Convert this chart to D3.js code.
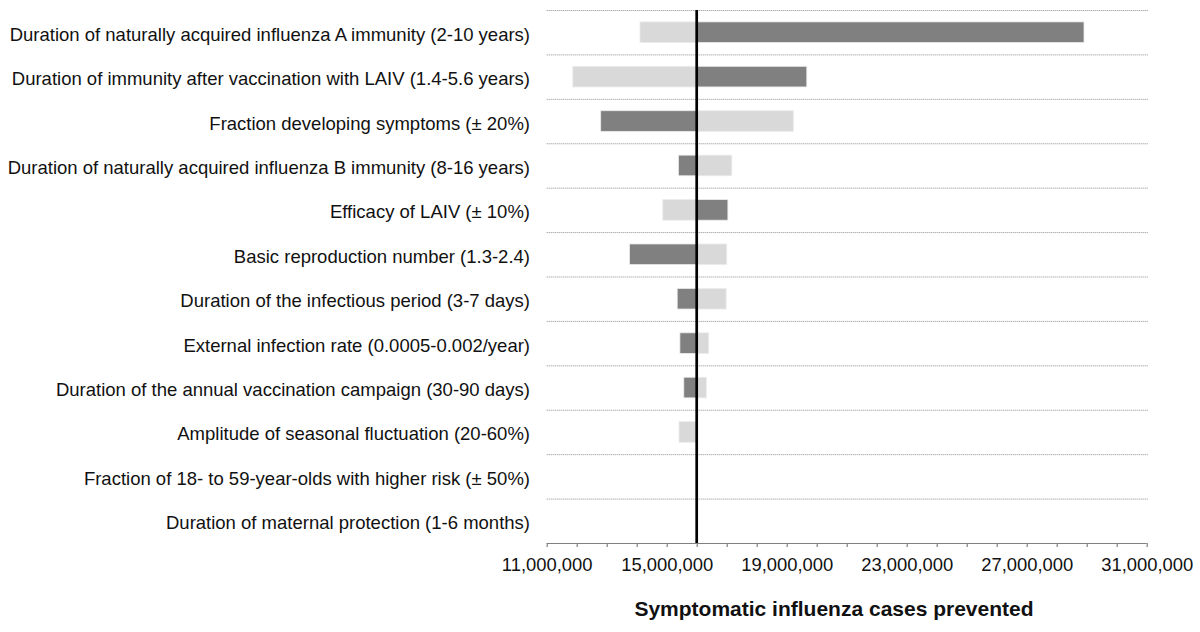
<!DOCTYPE html>
<html>
<head>
<meta charset="utf-8">
<script src="https://cdn.jsdelivr.net/npm/d3@7"></script>
<style>
  html, body { margin: 0; padding: 0; background: #ffffff; }
  svg { display: block; font-family: Arial, "Liberation Sans", Helvetica, sans-serif; }
</style>
</head>
<body>
<svg id="chart" width="1200" height="632"></svg>
<script>
// ---- Data ----
const categories = [
  "Duration of naturally acquired influenza A immunity (2-10 years)",
  "Duration of immunity after vaccination with LAIV (1.4-5.6 years)",
  "Fraction developing symptoms (\u00b1 20%)",
  "Duration of naturally acquired influenza B immunity (8-16 years)",
  "Efficacy of LAIV (\u00b1 10%)",
  "Basic reproduction number (1.3-2.4)",
  "Duration of the infectious period (3-7 days)",
  "External infection rate (0.0005-0.002/year)",
  "Duration of the annual vaccination campaign (30-90 days)",
  "Amplitude of seasonal fluctuation (20-60%)",
  "Fraction of 18- to 59-year-olds with higher risk (\u00b1 50%)",
  "Duration of maternal protection (1-6 months)"
];
const baseCase = 16000000;
// outcome shown by the light-grey segment
const lightValues = [14110000, 11870000, 19220000, 17170000, 14870000, 17000000,
                     16980000, 16400000, 16320000, 15410000, 16000000, 16000000];
// outcome shown by the dark-grey segment
const darkValues  = [28910000, 19670000, 12800000, 15390000, 17040000, 13760000,
                     15350000, 15440000, 15570000, 16000000, 16000000, 16000000];
const xDomain = [11000000, 31000000];
const minorTicks = d3.range(11000000, 31000001, 1000000);
const labelTicks = [11000000, 15000000, 19000000, 23000000, 27000000, 31000000];
const axisTitle = "Symptomatic influenza cases prevented";

// ---- Layout ----
const svg = d3.select("#chart");
const pLeft = 546.7, pRight = 1146.7, pTop = 10, pBottom = 543;

const x = d3.scaleLinear().domain(xDomain).range([pLeft, pRight]);
const y = d3.scaleBand().domain(categories).range([pTop, pBottom]).padding(0);
const barH = y.bandwidth() * 0.465;

// gridlines (dotted) at top of each band
svg.append("g").selectAll("line")
  .data(categories)
  .join("line")
  .attr("x1", pLeft).attr("x2", pRight + 1.5)
  .attr("y1", d => y(d) + 0.5).attr("y2", d => y(d) + 0.5)
  .attr("stroke", "#8c8c8c")
  .attr("stroke-width", 1)
  .attr("stroke-dasharray", "1,1");

// bars
function drawSeries(values, color) {
  svg.append("g").selectAll("rect")
    .data(categories.map((c, i) => ({ c, v: values[i] })).filter(d => d.v !== baseCase))
    .join("rect")
    .attr("x", d => Math.min(x(d.v), x(baseCase)))
    .attr("width", d => Math.abs(x(d.v) - x(baseCase)))
    .attr("y", d => y(d.c) + y.bandwidth() / 2 - barH / 2)
    .attr("height", barH)
    .attr("fill", color)
    .attr("stroke", "#ececec")
    .attr("stroke-width", 0.8);
}
drawSeries(lightValues, "#d9d9d9");
drawSeries(darkValues, "#808080");

// category labels
svg.append("g").selectAll("text")
  .data(categories)
  .join("text")
  .attr("x", 530)
  .attr("y", d => y(d) + y.bandwidth() / 2 + 8.5)
  .attr("text-anchor", "end")
  .attr("font-size", 18.5)
  .attr("fill", "#111")
  .text(d => d);

// x axis
const axis = d3.axisBottom(x)
  .tickValues(minorTicks)
  .tickSize(4)
  .tickPadding(11)
  .tickFormat(d => labelTicks.includes(d) ? d3.format(",")(d) : "");
const gx = svg.append("g").attr("transform", `translate(0,${pBottom})`).call(axis);
gx.select(".domain").attr("stroke", "#808080").attr("stroke-width", 1.2)
  .attr("d", `M${pLeft},0.5H${pRight}`);
gx.selectAll(".tick line").attr("stroke", "#808080").attr("stroke-width", 1.2);
gx.selectAll(".tick text")
  .attr("font-size", 18.4)
  .attr("font-family", "Arial, 'Liberation Sans', sans-serif")
  .attr("fill", "#111");

// base case line
svg.append("line")
  .attr("x1", x(baseCase)).attr("x2", x(baseCase))
  .attr("y1", pTop).attr("y2", pBottom)
  .attr("stroke", "#000")
  .attr("stroke-width", 2.7);

// axis title
svg.append("text")
  .attr("x", 834)
  .attr("y", 616)
  .attr("text-anchor", "middle")
  .attr("font-size", 21)
  .attr("font-weight", "bold")
  .attr("fill", "#111")
  .text(axisTitle);
</script>
</body>
</html>
